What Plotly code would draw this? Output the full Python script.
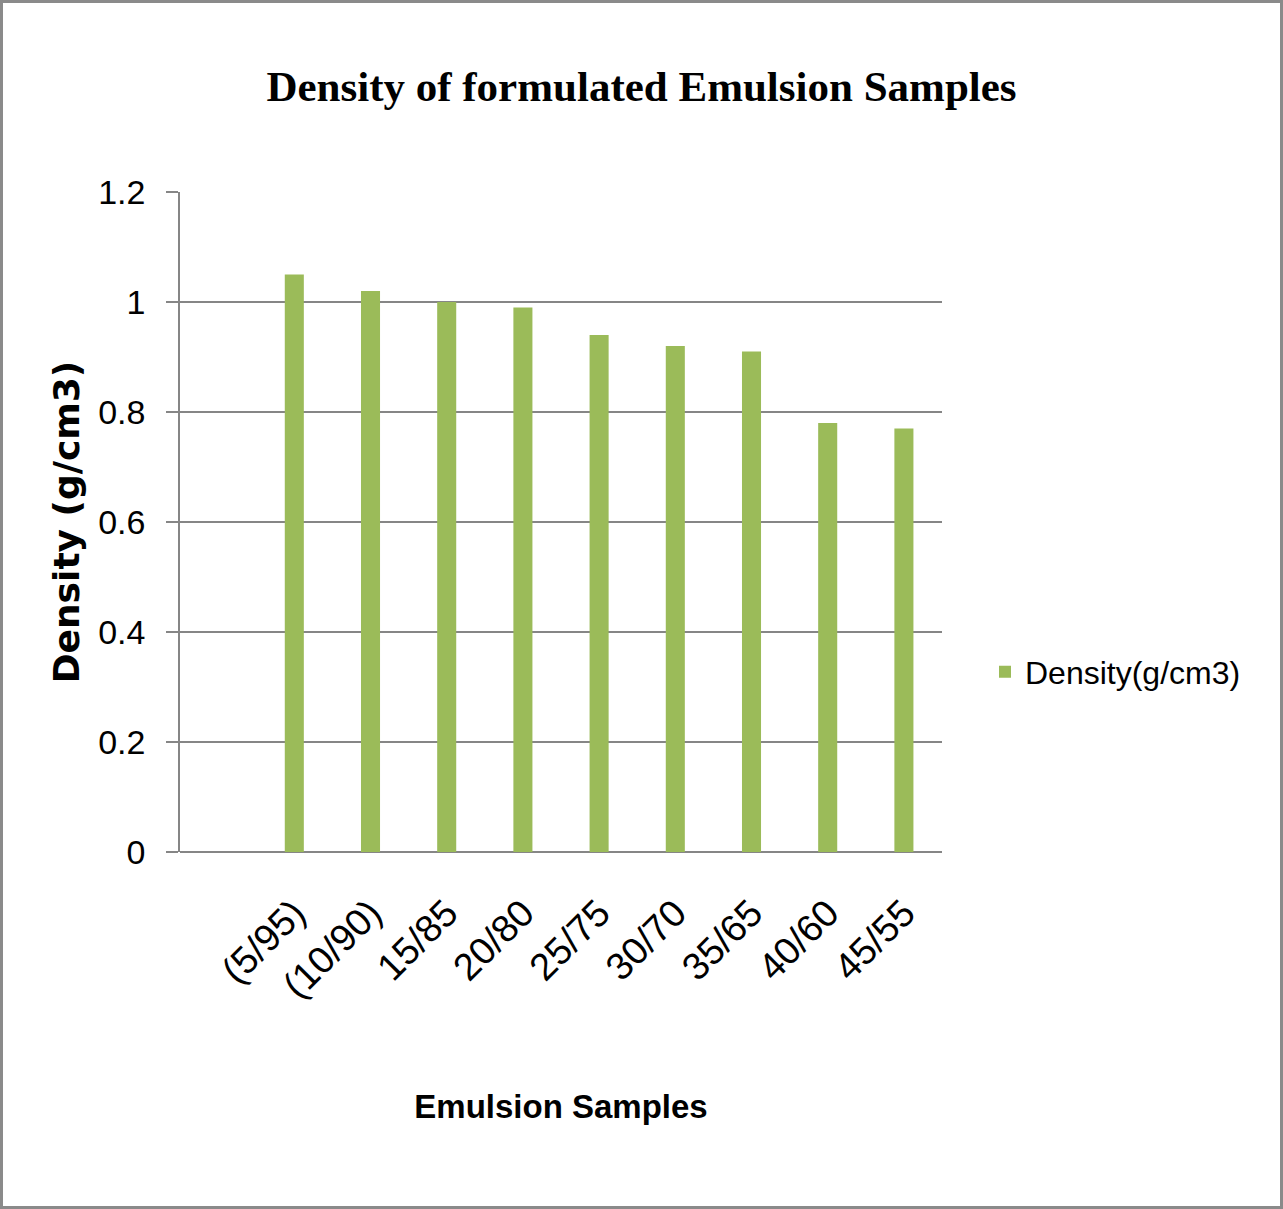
import plotly.graph_objects as go

# Emulsion samples (oil/water ratio) and their measured densities
samples = ["(5/95)", "(10/90)", "15/85", "20/80", "25/75", "30/70", "35/65", "40/60", "45/55"]
density = [1.05, 1.02, 1.00, 0.99, 0.94, 0.92, 0.91, 0.78, 0.77]
series_name = "Density(g/cm3)"

W, H = 1283, 1209
ML, MR, MT, MB = 180, 341, 192, 357
PW, PH = W - ML - MR, H - MT - MB

GREEN = "#9BBB59"
GRID = "#868686"
SANS = "Liberation Sans, Arial, sans-serif"

fig = go.Figure(
    go.Bar(
        x=samples,
        y=density,
        name=series_name,
        marker=dict(color=GREEN, line=dict(width=0)),
        width=0.25,
        showlegend=True,
    )
)


def px_x(px):
    return (px - ML) / PW


def px_y(py):
    return (H - MB - py) / PH


# thin grey frame around the whole chart area
fig.add_shape(
    type="rect", xref="paper", yref="paper",
    x0=px_x(1.5), x1=px_x(W - 1.5), y0=px_y(H - 1.5), y1=px_y(1.5),
    line=dict(color="#8a8a8a", width=3), fillcolor="rgba(0,0,0,0)", layer="below",
)

fig.update_layout(
    width=W, height=H,
    margin=dict(l=ML, r=MR, t=MT, b=MB, autoexpand=False),
    paper_bgcolor="white", plot_bgcolor="white",
    title=dict(
        text="<b>Density of formulated Emulsion Samples</b>",
        x=0.5, xref="container", xanchor="center",
        y=1 - 86 / H, yanchor="middle",
        font=dict(family="Liberation Serif, Times New Roman, serif", size=43, color="black"),
    ),
    legend=dict(
        x=px_x(985), xanchor="left", y=px_y(672), yanchor="middle",
        font=dict(family=SANS, size=32, color="black"),
        bgcolor="rgba(0,0,0,0)",
    ),
    xaxis=dict(
        type="category",
        range=[-1.5, 8.5],
        showgrid=False,
        showline=False,
        ticks="",
        tickangle=-45,
        tickfont=dict(family=SANS, size=38, color="black"),
        ticklabelstandoff=30,
        title=dict(
            text="<b>Emulsion Samples</b>",
            font=dict(family=SANS, size=33, color="black"),
            standoff=89,
        ),
    ),
    yaxis=dict(
        range=[0, 1.2],
        dtick=0.2,
        showgrid=True, gridcolor=GRID, gridwidth=2,
        zeroline=True, zerolinecolor=GRID, zerolinewidth=2,
        showline=True, linecolor=GRID, linewidth=1.5,
        ticks="outside", ticklen=12, tickcolor=GRID, tickwidth=2,
        tickfont=dict(family=SANS, size=34, color="black"),
        ticklabelstandoff=14,
        title=dict(
            text="<b>Density (g/cm3)</b>",
            font=dict(family="DejaVu Sans, Verdana, sans-serif", size=36, color="black"),
            standoff=8,
        ),
    ),
    bargap=0.75,
)

fig.write_html("out.html")
